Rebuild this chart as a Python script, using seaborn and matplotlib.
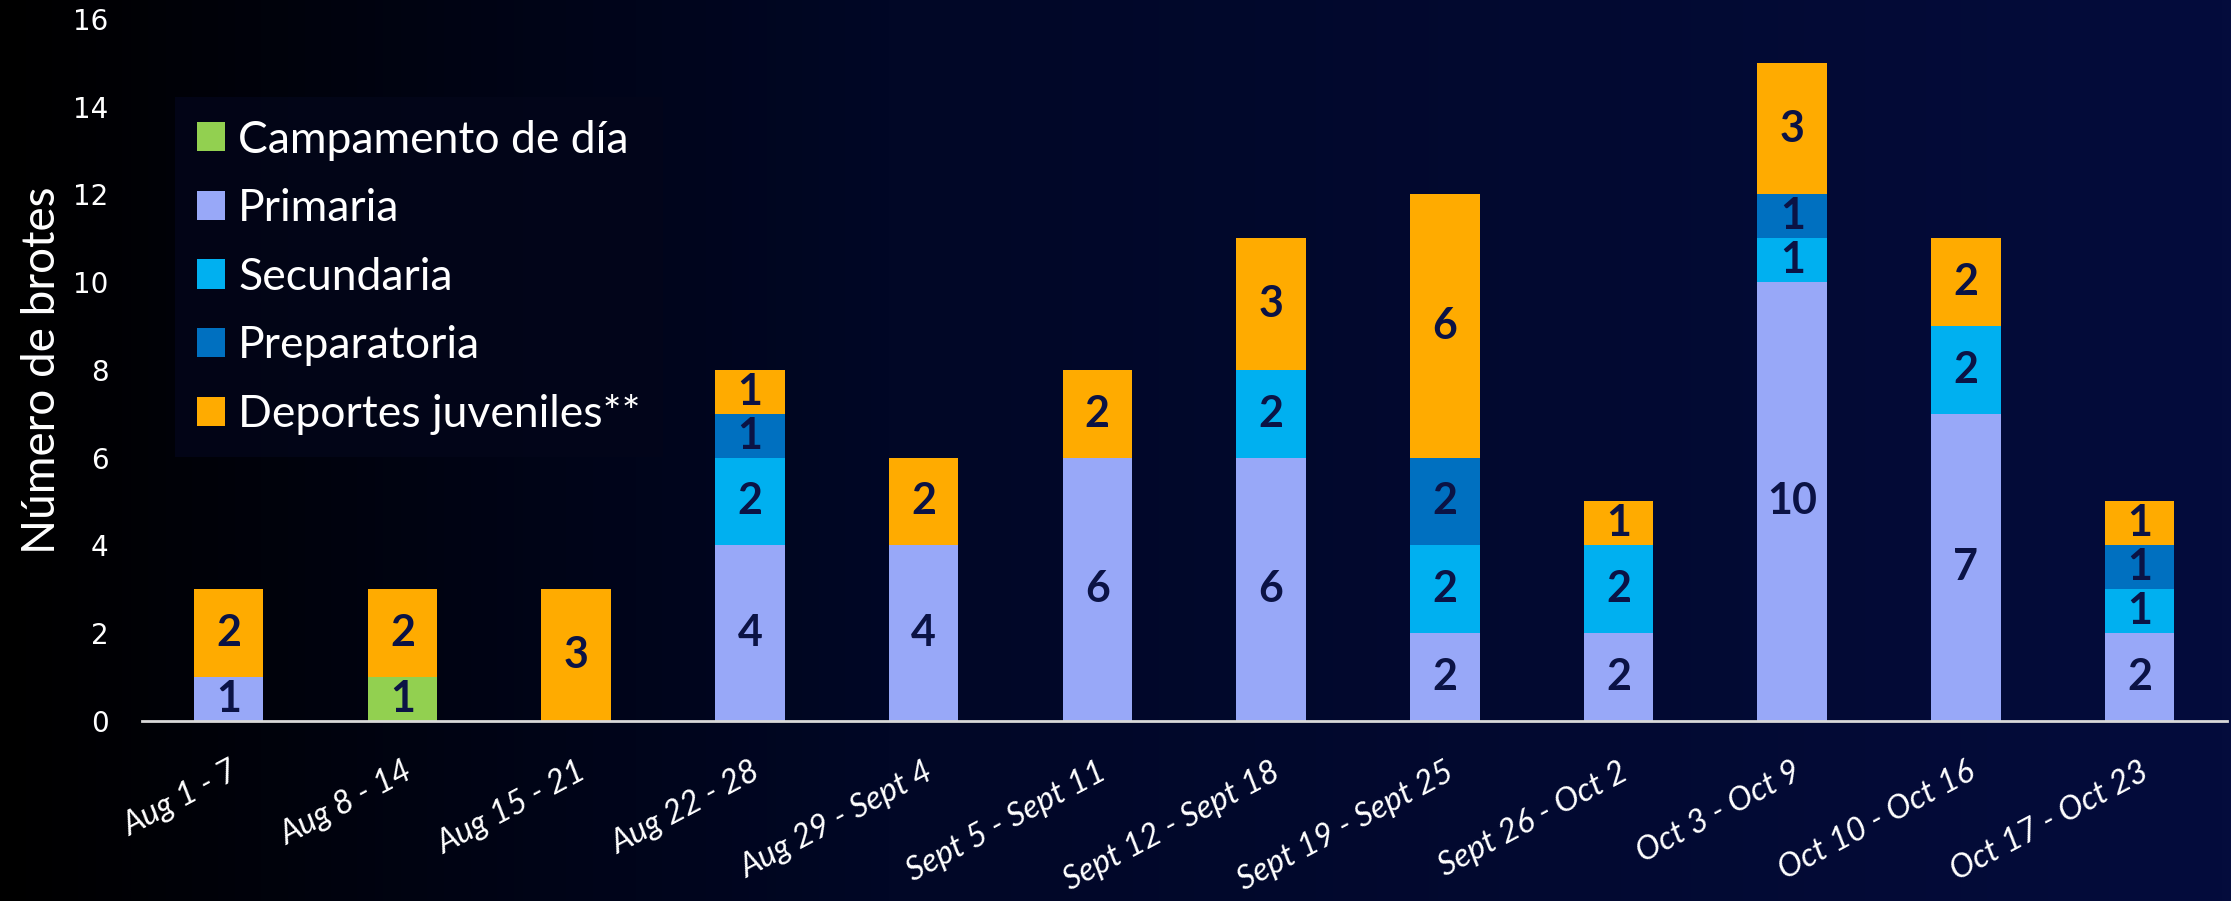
import numpy as np
import seaborn as sns
import matplotlib.pyplot as plt
from matplotlib.colors import LinearSegmentedColormap
from matplotlib.patches import Patch

# Datos: brotes por semana y categoría
semanas = ["Aug 1 - 7", "Aug 8 - 14", "Aug 15 - 21", "Aug 22 - 28", "Aug 29 - Sept 4",
           "Sept 5 - Sept 11", "Sept 12 - Sept 18", "Sept 19 - Sept 25", "Sept 26 - Oct 2",
           "Oct 3 - Oct 9", "Oct 10 - Oct 16", "Oct 17 - Oct 23"]
campamento = [0, 1, 0, 0, 0, 0, 0, 0, 0, 0, 0, 0]
primaria = [1, 0, 0, 4, 4, 6, 6, 2, 2, 10, 7, 2]
secundaria = [0, 0, 0, 2, 0, 0, 2, 2, 2, 1, 2, 1]
preparatoria = [0, 0, 0, 1, 0, 0, 0, 2, 0, 1, 0, 1]
deportes = [2, 2, 3, 1, 2, 2, 3, 6, 1, 3, 2, 1]

categorias = ["Campamento de día", "Primaria", "Secundaria", "Preparatoria", "Deportes juveniles**"]
series = [campamento, primaria, secundaria, preparatoria, deportes]
colores = ["#92d050", "#98a8f8", "#00b0f0", "#0070c0", "#ffab00"]

sns.set_style("white")
plt.rcParams["font.family"] = ["Lato", "DejaVu Sans"]

fig = plt.figure(figsize=(22.31, 9.01), dpi=100)
fig.patch.set_facecolor("black")

# fondo en degradado
bg = fig.add_axes([0, 0, 1, 1], zorder=-1)
cmap = LinearSegmentedColormap.from_list("fondo", [(0, "#000000"), (0.4, "#010726"), (1, "#040c3c")])
bg.imshow(np.linspace(0, 1, 256)[None, :], aspect="auto", cmap=cmap, extent=[0, 1, 0, 1])
bg.axis("off")

ax = fig.add_axes([0.0636, 0.2, 0.9344, 0.779])
ax.set_facecolor("none")

base = np.zeros(len(semanas))
texto = "#0b1345"
for nombre, vals, col in zip(categorias, series, colores):
    vals = np.array(vals, dtype=float)
    sns.barplot(x=semanas, y=vals, bottom=base, color=col, width=0.4,
                saturation=1, linewidth=0, order=semanas, ax=ax)
    for i, v in enumerate(vals):
        if v > 0:
            ax.text(i, base[i] + v / 2, f"{int(v)}", ha="center", va="center",
                    fontsize=31, fontweight="bold", color=texto)
    base += vals

ax.set_ylim(0, 16)
ax.set_xlim(-0.5, len(semanas) - 0.5)
ax.set_yticks(range(0, 17, 2))
ax.tick_params(axis="y", length=0, pad=24, labelsize=20, labelcolor="white")
for t in ax.get_yticklabels():
    t.set_family("DejaVu Sans")
ax.tick_params(axis="x", length=0, pad=26)
ax.set_xticks(range(len(semanas)))
ax.set_xticklabels(semanas, rotation=28, ha="right", rotation_mode="anchor",
                   fontsize=23.5, style="italic", color="white")

for lado in ["left", "right", "top"]:
    ax.spines[lado].set_visible(False)
ax.spines["bottom"].set_color("#d9d9d9")
ax.spines["bottom"].set_linewidth(2)

ax.set_xlabel("")
ax.set_ylabel("Número de brotes", fontsize=33, color="white")
ax.yaxis.set_label_coords(-0.038, 0.5)

manejadores = [Patch(facecolor=c, edgecolor="none") for c in colores]
leg = ax.legend(manejadores, categorias, loc="upper left", bbox_to_anchor=(0.005, 0.92),
                fontsize=32, frameon=True, handlelength=0.63, handleheight=0.63,
                handletextpad=0.3, labelspacing=0.62, borderpad=0.5, fancybox=False)
leg.get_frame().set_facecolor("#03061a")
leg.get_frame().set_edgecolor("none")
for t in leg.get_texts():
    t.set_color("white")

fig.savefig("out.png", dpi=100, facecolor=fig.get_facecolor())
